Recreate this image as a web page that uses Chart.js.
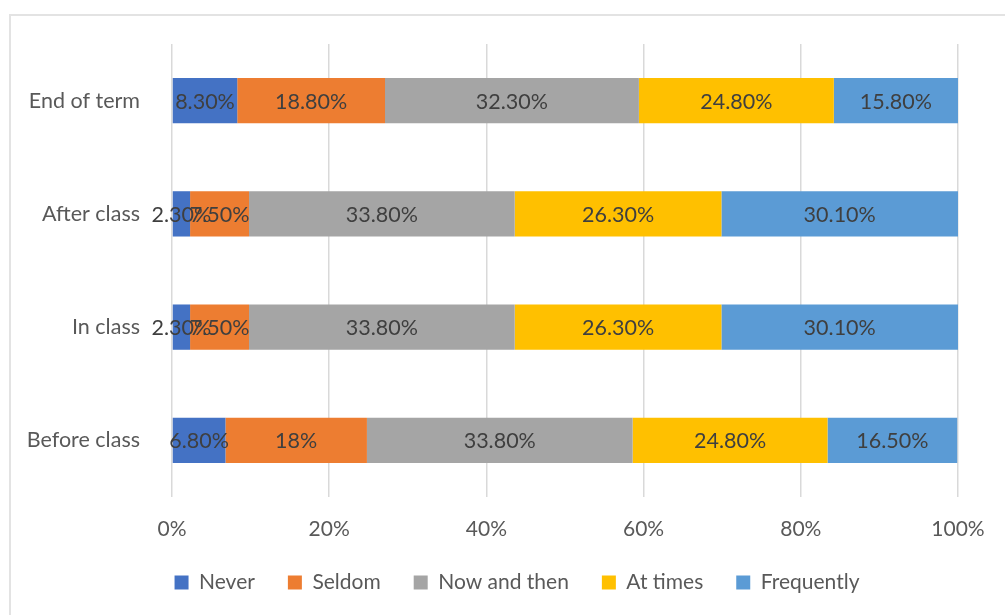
<!DOCTYPE html>
<html>
<head>
<meta charset="utf-8">
<script src="https://cdn.jsdelivr.net/npm/chart.js@4"></script>
<style>
    body { margin: 0; background: #ffffff; }
    #frame { position: absolute; left: 9px; top: 14px; width: 1100px; height: 700px; border: 2px solid #e3e3e3; }
    #wrap { position: absolute; left: 0; top: 0; width: 1005px; height: 615px; }
</style>
</head>
<body>
<div id="frame"></div>
<div id="wrap"><canvas id="myChart" width="1005" height="615"></canvas></div>
<script>
const categories = ['End of term', 'After class', 'In class', 'Before class'];
const seriesNames = ['Never', 'Seldom', 'Now and then', 'At times', 'Frequently'];
const never = [8.3, 2.3, 2.3, 6.8];
const seldom = [18.8, 7.5, 7.5, 18];
const nowAndThen = [32.3, 33.8, 33.8, 33.8];
const atTimes = [24.8, 26.3, 26.3, 24.8];
const frequently = [15.8, 30.1, 30.1, 16.5];
const xTicks = [0, 20, 40, 60, 80, 100];

const colors = ['#4472C4', '#ED7D31', '#A5A5A5', '#FFC000', '#5B9BD5'];
const FONT = 'Lato';

function formatValue(v) {
    return (Number.isInteger(v) ? v : v.toFixed(2)) + '%';
}

// draws the value in the middle of each segment
const barLabels = {
    id: 'barLabels',
    afterDatasetsDraw(chart) {
        const ctx = chart.ctx;
        ctx.save();
        ctx.font = '21.5px ' + FONT;
        ctx.fillStyle = '#3f3f3f';
        ctx.textAlign = 'center';
        ctx.textBaseline = 'middle';
        chart.data.datasets.forEach((ds, i) => {
            chart.getDatasetMeta(i).data.forEach((bar, j) => {
                ctx.fillText(formatValue(ds.data[j]), (bar.x + bar.base) / 2, bar.y + 1);
            });
        });
        ctx.restore();
    }
};

// legend sits a bit left of the plot centre in the original
const shiftLegend = {
    id: 'shiftLegend',
    afterLayout(chart) {
        chart.legend.left += 33;
        chart.legend.right += 33;
    }
};

function createChart() {
    const ctx = document.getElementById('myChart').getContext('2d');
    const values = [never, seldom, nowAndThen, atTimes, frequently];
    new Chart(ctx, {
        type: 'bar',
        data: {
            labels: categories,
            datasets: seriesNames.map((name, i) => ({
                label: name,
                data: values[i],
                backgroundColor: colors[i],
                borderWidth: 0,
                categoryPercentage: 1,
                barPercentage: 0.4
            }))
        },
        plugins: [barLabels, shiftLegend],
        options: {
            indexAxis: 'y',
            responsive: false,
            animation: false,
            layout: {
                padding: { top: 44, right: 47, left: 10, bottom: 12 }
            },
            scales: {
                x: {
                    stacked: true,
                    min: 0,
                    max: 100,
                    afterBuildTicks: scale => { scale.ticks = xTicks.map(v => ({ value: v })); },
                    afterFit: scale => { scale.height = 42; },
                    ticks: {
                        callback: v => v + '%',
                        color: '#595959',
                        font: { family: FONT, size: 21 },
                        padding: 20,
                        maxRotation: 0
                    },
                    grid: { color: '#d9d9d9', lineWidth: 1.5, drawTicks: false },
                    border: { display: false }
                },
                y: {
                    stacked: true,
                    afterFit: scale => { scale.width = 162; },
                    ticks: {
                        color: '#595959',
                        font: { family: FONT, size: 21.5 },
                        padding: 24
                    },
                    grid: { display: false },
                    border: { display: false }
                }
            },
            plugins: {
                legend: {
                    position: 'bottom',
                    labels: {
                        boxWidth: 14,
                        boxHeight: 14,
                        padding: 33,
                        color: '#595959',
                        font: { family: FONT, size: 21 }
                    }
                },
                tooltip: { enabled: false }
            }
        }
    });
}

createChart();
</script>
</body>
</html>
